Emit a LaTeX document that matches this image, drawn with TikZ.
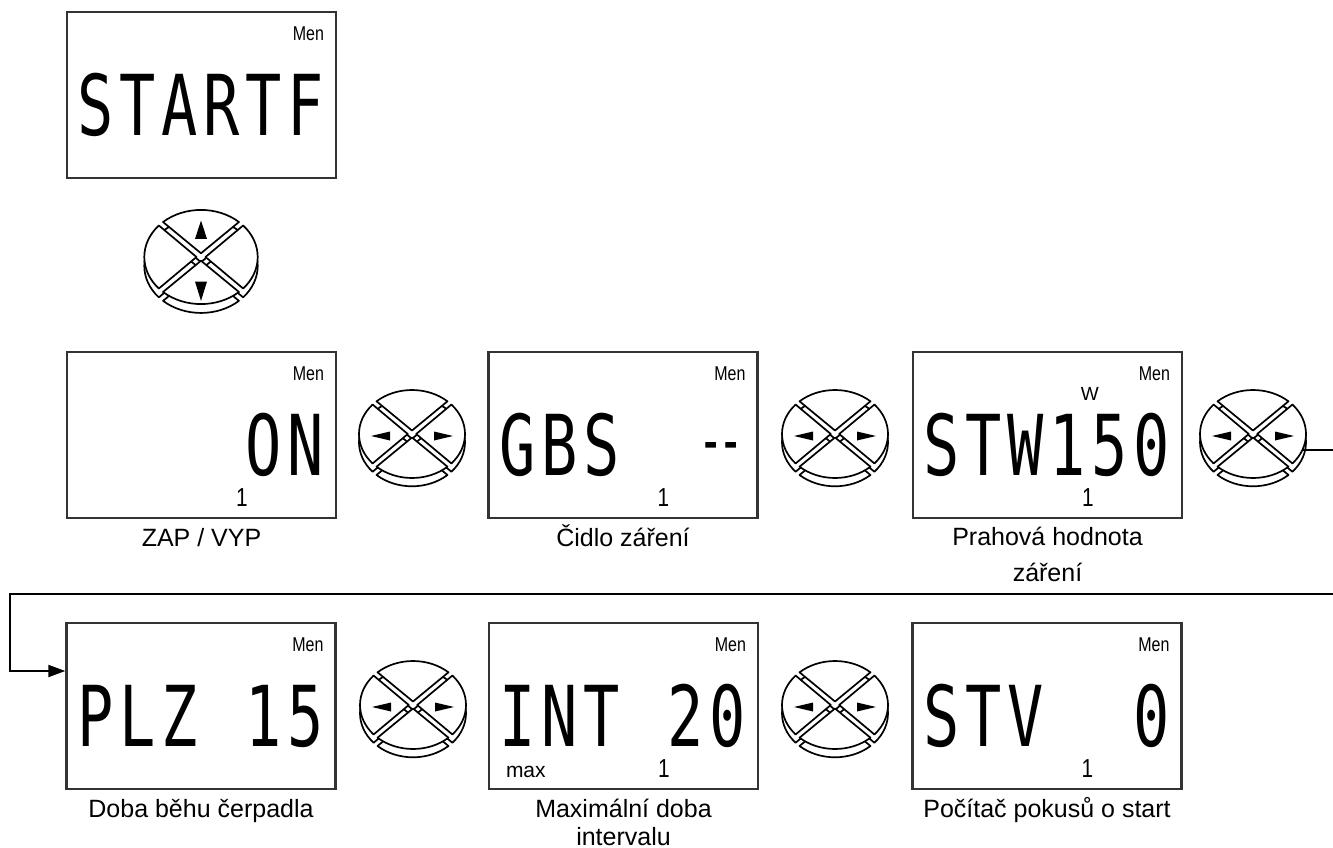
\documentclass[tikz,border=0pt]{standalone}
\usepackage{graphicx}
\usepackage{fontspec}
\setmainfont{Liberation Sans}
\newfontfamily\lcdfont{DejaVu Sans Mono}
\usetikzlibrary{arrows.meta,calc}

% tall segment-style display characters, one fixed-width cell each
\newcommand\segtext[1]{\segcells#1\relax}
\def\segcells#1{\ifx\relax#1\else\makebox[42pt][c]{\scalebox{0.86}[1.2]{#1}}\expandafter\segcells\fi}
% the split middle bar shown in a cell
\newcommand\segbar{\raisebox{11pt}{\makebox[20pt]{\scalebox{0.6}[1]{-}}\makebox[20pt]{\scalebox{0.6}[1]{-}}}}
% narrow annunciator text
\newcommand\narrowtxt[1]{\scalebox{0.8}[1]{#1}}

% body of the four-way navigation pad: raised quarter keys with a visible edge
\newcommand\padbody{%
  \begin{scope}[yscale=0.83]
    \foreach \a in {0,90,180,270}
      \filldraw[padline, shift={(0,10)}] (\a:4.2) -- (\a+42:53)
        arc[start angle=\a+42, end angle=\a-42, radius=53] -- cycle;
    \foreach \a in {0,90,180,270}
      \filldraw[padline] (\a:4.2) -- (\a+42:53)
        arc[start angle=\a+42, end angle=\a-42, radius=53] -- cycle;
  \end{scope}}

\tikzset{
  panel/.style={draw=black!80, line width=2.4pt, minimum width=269pt,
    minimum height=166pt, inner sep=0pt},
  seg/.style={anchor=base west, inner sep=0pt, text depth=0pt,
    font=\lcdfont\fontsize{70}{70}\selectfont},
  segc/.style={seg, anchor=base},
  menu/.style={anchor=base east, inner sep=0pt, font=\fontsize{20}{20}\selectfont},
  unit/.style={anchor=base, inner sep=0pt, font=\fontsize{19}{19}\selectfont},
  chan/.style={anchor=base, inner sep=0pt, text depth=0pt, font=\fontsize{26}{26}\selectfont},
  lim/.style={anchor=base west, inner sep=0pt, text depth=0pt, font=\fontsize{21}{21}\selectfont},
  caption/.style={anchor=base, inner sep=0pt, font=\fontsize{25}{30}\selectfont},
  padline/.style={draw=black, fill=white, line width=1.7pt, line join=round},
  link/.style={draw=black, line width=2pt},
  pics/padlr/.style={code={
    \padbody
    \fill (-41,2) -- (-22,-2.5) -- (-22,6.5) -- cycle;
    \fill (41,2) -- (22,-2.5) -- (22,6.5) -- cycle;
    \coordinate (-out) at (49,16);
  }},
  pics/padud/.style={code={
    \padbody
    \fill (0,-34) -- (-5.6,-17) -- (5.6,-17) -- cycle;
    \fill (0,41) -- (-5.6,23) -- (5.6,23) -- cycle;
  }},
}

\begin{document}
\begin{tikzpicture}[x=1pt, y=-1pt]
\fill[white] (0,0) rectangle (1333,848);
\useasboundingbox (0,0) rectangle (1333,848);

% start screen
\node[panel] (p0) at (201.5,95) {};
\node[menu] (p0m) at ($(p0.north east)+(-13,30)$) {\narrowtxt{Men}};
\node[seg] (p0t) at ($(p0.north west)+(9,125)$) {\segtext{STARTF}};

\pic[scale=1.07] (b0) at (201,257) {padud};

% first row of settings
\node[panel] (p1) at (201.5,435) {};
\node[menu] (p1m) at ($(p1.north east)+(-13,30)$) {\narrowtxt{Men}};
\node[seg] (p1t) at ($(p1.north west)+(177,125)$) {\segtext{ON}};
\node[chan] (p1c) at ($(p1.north west)+(176,156)$) {\narrowtxt{1}};
\node[caption] (c1) at ($(p1.south)+(0,27)$) {ZAP / VYP};

\pic (b1) at (412,434) {padlr};

\node[panel] (p2) at (623,435) {};
\node[menu] (p2m) at ($(p2.north east)+(-13,30)$) {\narrowtxt{Men}};
\node[seg] (p2t) at ($(p2.north west)+(9,125)$) {\segtext{GBS}};
\node[segc] (p2d) at ($(p2.north west)+(234,125)$) {\segbar};
\node[chan] (p2c) at ($(p2.north west)+(176,156)$) {\narrowtxt{1}};
\node[caption] (c2) at ($(p2.south)+(0,27)$) {Čidlo záření};

\pic (b2) at (835,434) {padlr};

\node[panel] (p3) at (1047.5,435) {};
\node[menu] (p3m) at ($(p3.north east)+(-13,30)$) {\narrowtxt{Men}};
\node[unit] (p3u) at ($(p3.north west)+(178,50)$) {W};
\node[seg] (p3t) at ($(p3.north west)+(9,125)$) {\segtext{STW150}};
\node[chan] (p3c) at ($(p3.north west)+(176,156)$) {\narrowtxt{1}};
\node[caption] (c3) at ($(p3.south)+(0,26)$)
  {\begin{tabular}[t]{@{}c@{}}Prahová hodnota\\[6pt]záření\end{tabular}};

\pic (b3) at (1253,434) {padlr};

% second row of settings
\node[panel] (p4) at (201,706) {};
\node[menu] (p4m) at ($(p4.north east)+(-13,30)$) {\narrowtxt{Men}};
\node[seg] (p4t) at ($(p4.north west)+(9,125)$) {\segtext{PLZ}};
\node[seg] (p4v) at ($(p4.north west)+(177,125)$) {\segtext{15}};
\node[caption] (c4) at ($(p4.south)+(0,27)$) {Doba běhu čerpadla};

\pic (b4) at (413,705) {padlr};

\node[panel] (p5) at (623.5,706) {};
\node[menu] (p5m) at ($(p5.north east)+(-13,30)$) {\narrowtxt{Men}};
\node[seg] (p5t) at ($(p5.north west)+(9,125)$) {\segtext{INT}};
\node[seg] (p5v) at ($(p5.north west)+(177,125)$) {\segtext{20}};
\node[lim] (p5x) at ($(p5.north west)+(18,156)$) {max};
\node[chan] (p5c) at ($(p5.north west)+(176,156)$) {\narrowtxt{1}};
\node[caption, text depth=0pt] (c5) at ($(p5.south)+(0,27)$)
  {\begin{tabular}[t]{@{}c@{}}Maximální doba\\[-2pt]intervalu\end{tabular}};

\pic (b5) at (835,705) {padlr};

\node[panel] (p6) at (1047,706) {};
\node[menu] (p6m) at ($(p6.north east)+(-13,30)$) {\narrowtxt{Men}};
\node[seg] (p6t) at ($(p6.north west)+(9,125)$) {\segtext{STV}};
\node[seg] (p6v) at ($(p6.north west)+(219,125)$) {\segtext{0}};
\node[chan] (p6c) at ($(p6.north west)+(176,156)$) {\narrowtxt{1}};
\node[caption] (c6) at ($(p6.south)+(0,27)$) {Počítač pokusů o start};

% wrap-around link from the end of the first row to the second row
\coordinate (r1) at (1333,450);
\coordinate (r2) at (1333,594);
\coordinate (l2) at (10,594);
\coordinate (l3) at (10,671);
\draw[link] (b3-out) -- (b3-out -| r1);
\draw[link, -{Triangle[length=17pt,width=12pt]}] (r2) -- (l2) -- (l3) -- (l3 -| p4.west);
\end{tikzpicture}
\end{document}
